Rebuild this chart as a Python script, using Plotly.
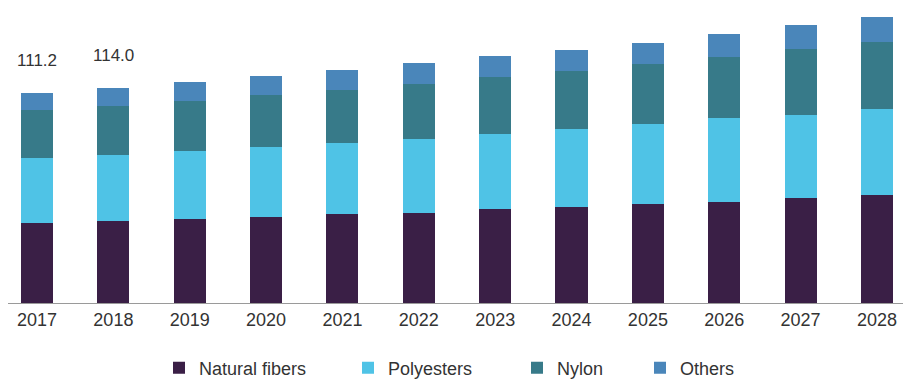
import plotly.graph_objects as go

years = ["2017", "2018", "2019", "2020", "2021", "2022", "2023", "2024", "2025", "2026", "2027", "2028"]
natural_fibers = [42.2, 43.4, 44.3, 45.5, 46.9, 47.8, 49.6, 51.0, 52.5, 53.4, 55.7, 57.1]
polyesters = [34.7, 34.9, 36.1, 37.0, 37.6, 38.8, 39.7, 41.0, 42.0, 44.3, 43.8, 45.3]
nylon = [25.0, 25.8, 26.5, 27.4, 28.0, 29.1, 30.3, 30.8, 32.1, 32.4, 34.8, 35.6]
others = [9.3, 9.9, 10.2, 10.2, 10.9, 11.3, 11.1, 11.0, 11.1, 12.0, 12.7, 13.2]

label_years = ["2017", "2018"]
label_values = [111.2, 114.0]

series_names = ["Natural fibers", "Polyesters", "Nylon", "Others"]
series_values = [natural_fibers, polyesters, nylon, others]
series_colors = ["#3a1f46", "#4fc3e6", "#377a89", "#4a86ba"]
legend_ids = ["legend", "legend2", "legend3", "legend4"]

FONT = "Liberation Sans, Arial, sans-serif"
TEXT = "#333333"

fig = go.Figure()
for name, vals, col, lg in zip(series_names, series_values, series_colors, legend_ids):
    fig.add_trace(go.Bar(
        x=years, y=vals, name=name, marker=dict(color=col, line=dict(width=0)),
        width=0.42, legend=lg,
    ))

for yr, v in zip(label_years, label_values):
    fig.add_annotation(x=years.index(yr), y=v, text=f"{v:.1f}", showarrow=False,
                       xref="x", yref="y",
                       yanchor="middle", yshift=32,
                       font=dict(family=FONT, size=17, color=TEXT))

L, PW = 8, 895
def lx(px):
    return (px - L) / PW

legend_common = dict(orientation="h", yanchor="middle", y=-0.222, xanchor="left",
                     font=dict(family=FONT, size=18, color=TEXT),
                     bgcolor="rgba(0,0,0,0)", borderwidth=0)
text_starts = [199, 388, 557, 680]
layout_legends = {}
for lg, ts in zip(legend_ids, text_starts):
    layout_legends[lg] = dict(legend_common, x=lx(ts - 40))

fig.update_layout(
    width=903, height=380,
    margin=dict(l=L, r=0, t=10, b=77, autoexpand=False),
    paper_bgcolor="white", plot_bgcolor="white",
    barmode="stack",
    showlegend=True,
    font=dict(family=FONT, color=TEXT),
    xaxis=dict(type="category", range=[-0.38, 11.341], showgrid=False,
               showline=True, linecolor="#9a9a9a", linewidth=1,
               ticks="", tickfont=dict(family=FONT, size=18, color=TEXT),
               fixedrange=True),
    yaxis=dict(range=[0, 155.0], visible=False, showgrid=False, fixedrange=True),
    **layout_legends,
)

fig.write_html("out.html")
